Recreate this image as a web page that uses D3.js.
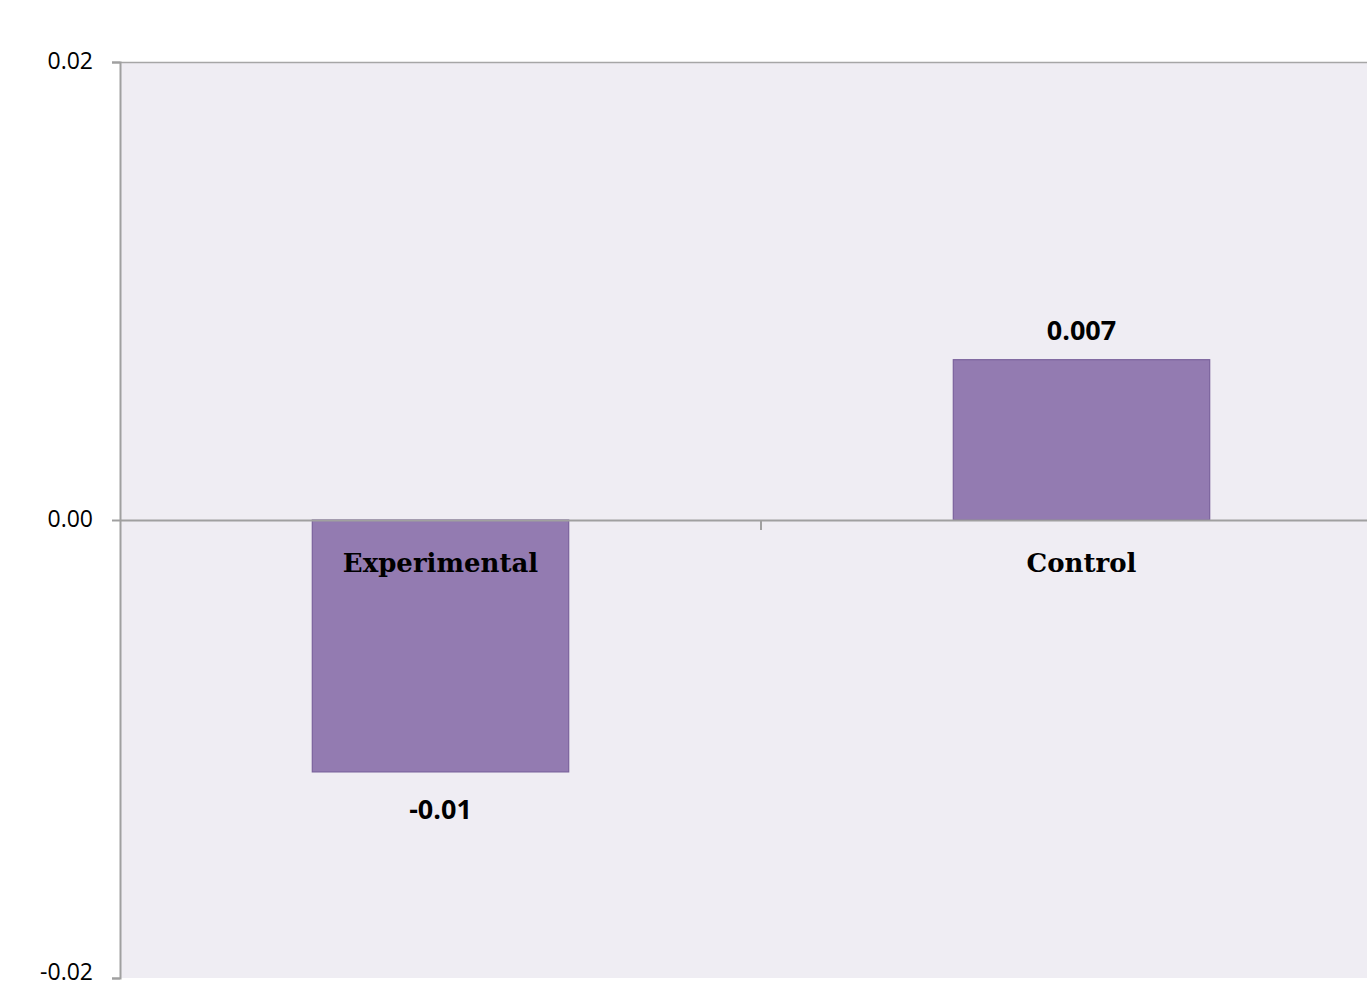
<!DOCTYPE html>
<html>
<head>
<meta charset="utf-8">
<script src="https://cdn.jsdelivr.net/npm/d3@7"></script>
<style>
html,body{margin:0;padding:0;background:#ffffff;overflow:hidden;}
svg{display:block;}
</style>
</head>
<body>
<svg id="chart" width="1367" height="988"></svg>
<script>
const categories = ["Experimental", "Control"];
const values = [-0.011, 0.007];
const valueLabels = ["-0.01", "0.007"];
const yTicks = [0.02, 0.00, -0.02];
const yTickLabels = ["0.02", "0.00", "-0.02"];

const svg = d3.select("#chart");
const plotLeft = 120, plotTop = 62, plotBottom = 978, plotRight = 1402;

const y = d3.scaleLinear().domain([-0.02, 0.02]).range([plotBottom, plotTop]);
const x = d3.scaleBand().domain(categories).range([plotLeft, plotRight]).padding(0);
const barW = x.bandwidth() * 0.4;

// plot background
svg.append("rect").attr("x", plotLeft).attr("y", plotTop)
  .attr("width", plotRight - plotLeft).attr("height", plotBottom - plotTop)
  .attr("fill", "#EFEDF3");

// top border
svg.append("line").attr("x1", plotLeft).attr("x2", plotRight)
  .attr("y1", plotTop + 0.5).attr("y2", plotTop + 0.5)
  .attr("stroke", "#A6A6A6").attr("stroke-width", 1.5);

// bars
svg.selectAll("rect.bar").data(categories).enter().append("rect")
  .attr("class", "bar")
  .attr("x", d => x(d) + x.bandwidth() / 2 - barW / 2)
  .attr("y", (d, i) => y(Math.max(0, values[i])))
  .attr("width", barW)
  .attr("height", (d, i) => Math.abs(y(values[i]) - y(0)))
  .attr("fill", "#937BB1")
  .attr("stroke", "#7A629C")
  .attr("stroke-width", 1.2);

// y axis
const yAxis = d3.axisLeft(y).tickValues(yTicks)
  .tickFormat((d, i) => yTickLabels[i]).tickSize(8).tickPadding(19);
const gy = svg.append("g").attr("transform", `translate(${plotLeft},0)`).call(yAxis);
gy.select(".domain").attr("stroke", "#A0A0A0").attr("stroke-width", 2);
gy.selectAll(".tick line").attr("stroke", "#A0A0A0").attr("stroke-width", 2);
gy.selectAll(".tick text").attr("font-family", "'Open Sans', sans-serif")
  .attr("font-size", 23).attr("fill", "#000")
  .attr("dy", d => d === d3.min(yTicks) ? "0.05em" : "0.3em");

// x axis at zero
const xAxis = d3.axisBottom(x).tickValues([]).tickSize(0);
const gx = svg.append("g").attr("transform", `translate(0,${y(0)})`).call(xAxis);
gx.select(".domain").attr("stroke", "#A0A0A0").attr("stroke-width", 2);
// category boundary ticks
const boundaries = categories.slice(1).map(c => x(c));
gx.selectAll("line.sep").data(boundaries).enter().append("line")
  .attr("class", "sep")
  .attr("x1", d => d).attr("x2", d => d)
  .attr("y1", 0).attr("y2", 10)
  .attr("stroke", "#A0A0A0").attr("stroke-width", 2);

// category labels
svg.selectAll("text.cat").data(categories).enter().append("text")
  .attr("class", "cat")
  .attr("x", d => x(d) + x.bandwidth() / 2)
  .attr("y", y(0) + 52)
  .attr("text-anchor", "middle")
  .attr("font-family", "'DejaVu Serif', serif")
  .attr("font-weight", "bold")
  .attr("font-size", 26)
  .attr("fill", "#000")
  .text(d => d);

// value labels
svg.selectAll("text.val").data(categories).enter().append("text")
  .attr("class", "val")
  .attr("x", d => x(d) + x.bandwidth() / 2)
  .attr("y", (d, i) => values[i] >= 0 ? y(values[i]) - 20 : y(values[i]) + 47)
  .attr("text-anchor", "middle")
  .attr("font-family", "'Open Sans', sans-serif")
  .attr("font-weight", "bold")
  .attr("font-size", 27)
  .attr("fill", "#000")
  .text((d, i) => valueLabels[i]);
</script>
</body>
</html>
